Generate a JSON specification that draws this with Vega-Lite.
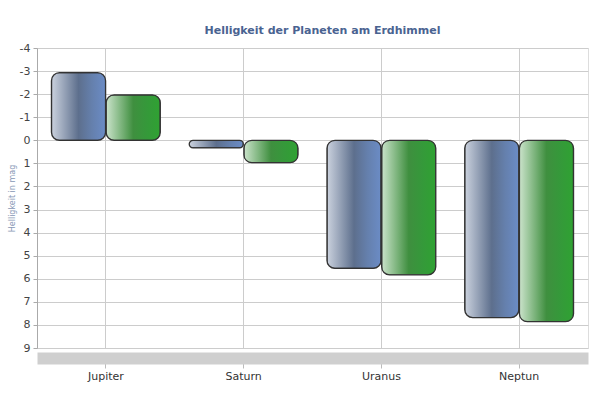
{
  "$schema": "https://vega.github.io/schema/vega-lite/v6.json",
  "autosize": "none",
  "width": 551,
  "height": 300,
  "padding": {"left": 37, "top": 48, "right": 12, "bottom": 52},
  "background": "white",
  "title": {
    "text": "Helligkeit der Planeten am Erdhimmel",
    "font": "DejaVu Sans",
    "fontSize": 11,
    "fontWeight": "bold",
    "color": "#4a6391",
    "offset": 6,
    "dx": 10
  },
  "data": {
    "values": [
      {"planet": "Jupiter", "serie": "Maximum", "mag": -2.93},
      {"planet": "Jupiter", "serie": "Mittel", "mag": -1.97},
      {"planet": "Saturn", "serie": "Maximum", "mag": 0.33},
      {"planet": "Saturn", "serie": "Mittel", "mag": 0.97},
      {"planet": "Uranus", "serie": "Maximum", "mag": 5.55},
      {"planet": "Uranus", "serie": "Mittel", "mag": 5.83},
      {"planet": "Neptun", "serie": "Maximum", "mag": 7.68},
      {"planet": "Neptun", "serie": "Mittel", "mag": 7.86}
    ]
  },
  "encoding": {
    "x": {
      "field": "planet",
      "type": "nominal",
      "sort": ["Jupiter", "Saturn", "Uranus", "Neptun"],
      "scale": {"paddingInner": 0.21, "paddingOuter": 0.105},
      "axis": {
        "title": null,
        "labelAngle": 0,
        "labelFont": "DejaVu Sans",
        "labelFontSize": 11,
        "labelColor": "#333333",
        "labelPadding": 2,
        "domainColor": "#cfcfcf",
        "domainWidth": 12,
        "offset": 10,
        "tickColor": "#bbbbbb",
        "tickSize": 10,
        "grid": true,
        "gridColor": "#cccccc",
        "gridWidth": 1
      }
    },
    "xOffset": {
      "field": "serie",
      "type": "nominal",
      "sort": ["Maximum", "Mittel"],
      "scale": {"paddingInner": 0.01, "paddingOuter": 0}
    },
    "y": {
      "field": "mag",
      "type": "quantitative",
      "scale": {"domain": [-4, 9], "reverse": true, "nice": false},
      "axis": {
        "title": "Helligkeit in mag",
        "titleFont": "DejaVu Sans",
        "titleFontSize": 8,
        "titleFontWeight": "normal",
        "titleColor": "#8797b5",
        "titleX": -25,
        "titleY": 150,
        "titleAngle": 270,
        "titleAlign": "center",
        "titleBaseline": "middle",
        "values": [-4, -3, -2, -1, 0, 1, 2, 3, 4, 5, 6, 7, 8, 9],
        "labelExpr": "'' + datum.value",
        "labelFont": "DejaVu Sans",
        "labelFontSize": 11,
        "labelColor": "#444444",
        "labelPadding": 3,
        "tickSize": 4,
        "tickColor": "#aaaaaa",
        "domainColor": "#aaaaaa",
        "gridColor": "#cccccc",
        "gridWidth": 1
      }
    }
  },
  "layer": [
    {
      "transform": [{"filter": "datum.serie === 'Maximum'"}],
      "mark": {
        "type": "bar",
        "cornerRadius": 8,
        "stroke": "#333333",
        "strokeWidth": 1.3,
        "color": {
          "gradient": "linear",
          "x1": 0, "y1": 0, "x2": 1, "y2": 0,
          "stops": [
            {"offset": 0, "color": "#cbd2de"},
            {"offset": 0.5, "color": "#5d6f8d"},
            {"offset": 0.75, "color": "#6580ad"},
            {"offset": 1, "color": "#6b8cc6"}
          ]
        }
      }
    },
    {
      "transform": [{"filter": "datum.serie === 'Mittel'"}],
      "mark": {
        "type": "bar",
        "cornerRadius": 8,
        "stroke": "#333333",
        "strokeWidth": 1.3,
        "color": {
          "gradient": "linear",
          "x1": 0, "y1": 0, "x2": 1, "y2": 0,
          "stops": [
            {"offset": 0, "color": "#cbe3cb"},
            {"offset": 0.5, "color": "#3f8f3f"},
            {"offset": 0.75, "color": "#35993a"},
            {"offset": 1, "color": "#2fa232"}
          ]
        }
      }
    }
  ]
}
